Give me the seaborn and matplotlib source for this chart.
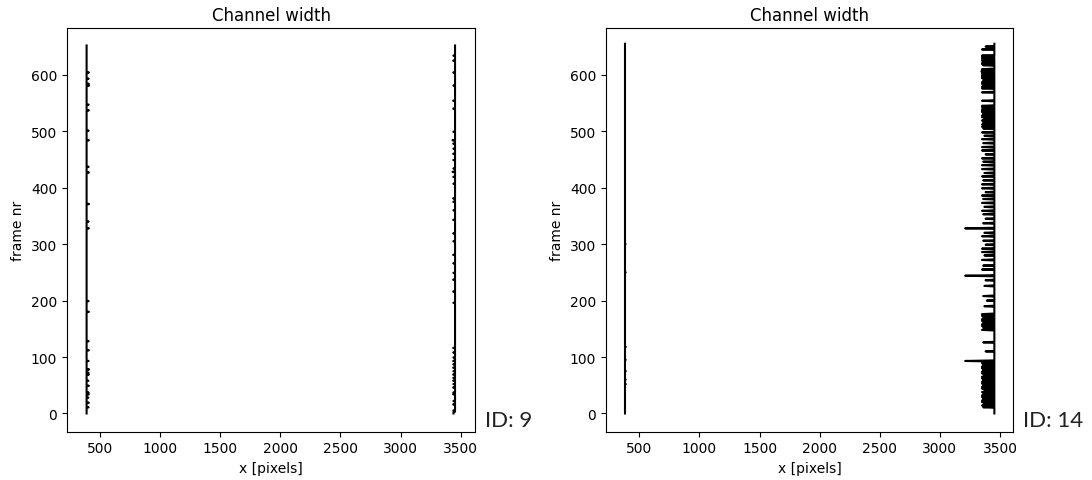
#!/usr/bin/env python3
import numpy as np
import pandas as pd
import seaborn as sns
import matplotlib.pyplot as plt

# ---- ID 9 -------------------------------------------------------------
n_frames_9 = 653
left_base_9 = 389
left_bump_frames_9 = [11, 19, 28, 34, 37, 49, 58, 69, 72, 78, 93, 112, 128, 180, 199,
                      328, 340, 371, 427, 437, 484, 501, 537, 547, 581, 584, 593, 604]
left_bump_vals_9 = [406, 408, 404, 408, 406, 408, 404, 408, 406, 410, 406, 408, 406, 408, 406,
                    408, 406, 410, 408, 406, 408, 406, 408, 406, 410, 408, 406, 408]
right_base_9 = 3453
right_bump_frames_9 = [0, 1, 2, 5, 16, 22, 34, 37, 46, 52, 58, 63, 69, 75, 81, 87, 93, 99,
                       108, 116, 196, 216, 237, 249, 266, 281, 305, 319, 343, 360, 375,
                       381, 407, 419, 428, 434, 449, 460, 469, 478, 484, 499, 540, 554,
                       581, 604, 625, 634]
right_bump_vals_9 = [3440, 3440, 3440, 3438, 3437, 3439, 3437, 3438, 3437, 3439, 3437, 3438,
                     3437, 3439, 3437, 3438, 3437, 3439, 3438, 3437, 3439, 3438, 3437, 3439,
                     3438, 3437, 3439, 3438, 3437, 3439, 3438, 3437, 3439, 3438, 3432, 3439,
                     3438, 3437, 3439, 3438, 3432, 3439, 3438, 3437, 3439, 3438, 3437, 3439]

# ---- ID 14 ------------------------------------------------------------
n_frames_14 = 656
left_base_14 = 381
left_bump_frames_14 = [52, 60, 75, 95, 118, 250, 300]
left_bump_vals_14 = [388, 387, 388, 387, 388, 387, 386]
right_base_14 = 3453
right_spike_frames_14 = [650, 645, 634, 632, 631, 629, 627, 625, 623, 621, 619, 617,
                         610, 608, 606, 604, 602, 600, 598, 596, 594, 590, 587, 584, 582, 579, 576,
                         569, 554, 545, 543, 541, 539, 536, 534, 531, 528, 525, 522, 519, 516, 512,
                         508, 505, 498, 492, 486, 479, 472, 466, 459, 452, 446, 440, 433, 426, 420,
                         413, 406, 399, 392, 386, 380, 373, 366, 359, 353, 345, 337, 328,
                         320, 314, 306, 299, 292, 286, 280, 272, 262, 255, 244,
                         236, 226, 208, 200, 190, 176, 173, 170, 167, 164, 161, 158, 155, 152, 148,
                         126, 110, 93, 89, 86, 83, 80, 77, 74, 71, 68, 65, 62, 59, 56, 53, 50,
                         47, 44, 41, 38, 35, 32, 29, 26, 23, 20, 17, 14, 11]
right_spike_vals_14 = [3380, 3350, 3350, 3350, 3360, 3350, 3355, 3350, 3360, 3350, 3350, 3360,
                       3350, 3350, 3345, 3350, 3350, 3355, 3350, 3350, 3350, 3360, 3350, 3350, 3360, 3350, 3350,
                       3350, 3350, 3350, 3350, 3360, 3350, 3350, 3350, 3360, 3350, 3350, 3370, 3350, 3360, 3350,
                       3350, 3360, 3350, 3370, 3350, 3360, 3350, 3350, 3380, 3350, 3360, 3350, 3350, 3370, 3350,
                       3360, 3350, 3350, 3380, 3350, 3360, 3350, 3370, 3350, 3360, 3380, 3360, 3210,
                       3370, 3350, 3360, 3380, 3350, 3350, 3370, 3350, 3360, 3350, 3210,
                       3380, 3370, 3360, 3390, 3370, 3350, 3350, 3360, 3350, 3350, 3360, 3350, 3350, 3360, 3350,
                       3360, 3380, 3210, 3350, 3360, 3350, 3350, 3360, 3350, 3350, 3370, 3350, 3350, 3360, 3350, 3350, 3360,
                       3350, 3350, 3370, 3350, 3360, 3350, 3350, 3360, 3350, 3350, 3370, 3350, 3360]


def edge_series(n, base, frames, vals):
    x = np.full(n, float(base))
    x[frames] = vals
    return pd.DataFrame({'x': x, 'frame': np.arange(n)})


panels = [
    ('ID: 9', n_frames_9,
     [(left_base_9, left_bump_frames_9, left_bump_vals_9),
      (right_base_9, right_bump_frames_9, right_bump_vals_9)],
     (226, 3619)),
    ('ID: 14', n_frames_14,
     [(left_base_14, left_bump_frames_14, left_bump_vals_14),
      (right_base_14, right_spike_frames_14, right_spike_vals_14)],
     (223, 3608)),
]

fig = plt.figure(figsize=(10.92, 4.81), dpi=100)
axes_rects = [[67 / 1092, 0.1008, 408 / 1092, 0.839],
              [606 / 1092, 0.1008, 407 / 1092, 0.839]]
id_pos = [(485 / 1092, 1 - 427 / 481), (1023 / 1092, 1 - 427 / 481)]

for (label, n, edges, xlim), rect, pos in zip(panels, axes_rects, id_pos):
    ax = fig.add_axes(rect)
    for base, frames, vals in edges:
        df = edge_series(n, base, frames, vals)
        sns.lineplot(data=df, x='x', y='frame', sort=False, estimator=None,
                     color='black', linewidth=1.5, ax=ax)
    ax.set_xlim(*xlim)
    ax.set_ylim(-32, 683)
    ax.set_xticks([500, 1000, 1500, 2000, 2500, 3000, 3500])
    ax.set_yticks([0, 100, 200, 300, 400, 500, 600])
    ax.set_title('Channel width', fontsize=12)
    ax.set_xlabel('x [pixels]')
    ax.set_ylabel('frame nr')
    fig.text(pos[0], pos[1], label, fontsize=16, family='Lato', color='#222222')

plt.savefig('out.png', dpi=100)
plt.close()
